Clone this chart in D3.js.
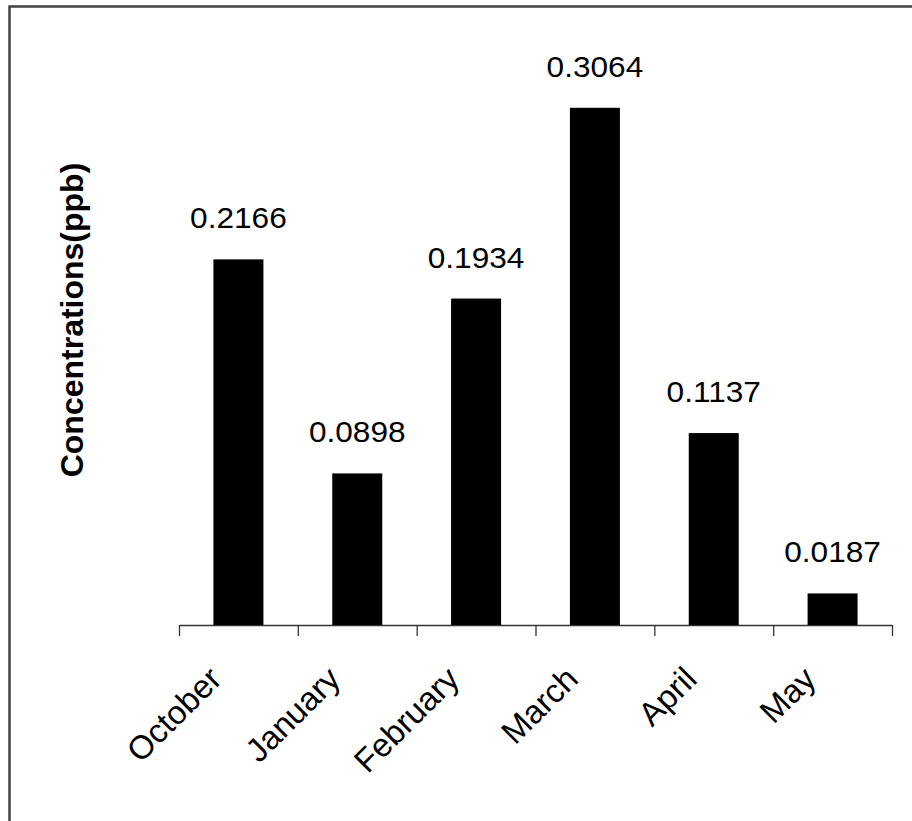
<!DOCTYPE html>
<html>
<head>
<meta charset="utf-8">
<script src="https://cdn.jsdelivr.net/npm/d3@7"></script>
<style>
  html, body { margin: 0; padding: 0; background: #fff; }
  svg { display: block; }
  text { font-family: "Liberation Sans", Arial, sans-serif; fill: #000; }
</style>
</head>
<body>
<script>
// Monthly concentrations (ppb)
const months = ["October", "January", "February", "March", "April", "May"];
const concentrations = [0.2166, 0.0898, 0.1934, 0.3064, 0.1137, 0.0187];
const yDomain = [0, 0.35];
const axisTitle = "Concentrations(ppb)";

const W = 912, H = 821;

const svg = d3.select("body").append("svg")
  .attr("width", W).attr("height", H);

// frame
svg.append("rect")
  .attr("x", 9.5).attr("y", 6.5)
  .attr("width", 1000).attr("height", 1000)
  .attr("fill", "none").attr("stroke", "#444").attr("stroke-width", 2.5);

const x0 = 179, x1 = 892;
const baseY = 625;

const x = d3.scaleBand().domain(months).range([x0, x1]).padding(0);
const y = d3.scaleLinear().domain(yDomain).range([baseY, baseY - 0.35 * 1688]);
const barW = 50;
const cx = m => x(m) + x.bandwidth() / 2;

// category axis with ticks on band boundaries
const edge = d3.scaleLinear().domain([0, months.length]).range([x0, x1]);
const axis = svg.append("g")
  .attr("transform", `translate(0,${baseY})`)
  .call(d3.axisBottom(edge)
    .tickValues(d3.range(months.length + 1))
    .tickFormat("")
    .tickSizeInner(11)
    .tickSizeOuter(0));
axis.select(".domain").attr("stroke", "#333").attr("stroke-width", 1.3);
axis.selectAll(".tick line").attr("stroke", "#333").attr("stroke-width", 1.3);

const rows = months.map((m, i) => ({ m, v: concentrations[i] }));

// bars
svg.selectAll("rect.bar")
  .data(rows)
  .join("rect")
  .attr("class", "bar")
  .attr("x", d => cx(d.m) - barW / 2)
  .attr("width", barW)
  .attr("y", d => y(d.v))
  .attr("height", d => y(0) - y(d.v))
  .attr("fill", "#000");

// value labels above the bars
const fmt = d3.format(".4f");
svg.selectAll("text.val")
  .data(rows)
  .join("text")
  .attr("class", "val")
  .attr("transform", d => `translate(${cx(d.m)},${y(d.v) - 31}) scale(1.09,1)`)
  .attr("text-anchor", "middle")
  .style("font-size", "29px")
  .text(d => fmt(d.v));

// month labels, slanted
svg.selectAll("text.month")
  .data(months)
  .join("text")
  .attr("class", "month")
  .attr("text-anchor", "end")
  .attr("transform", d => `translate(${cx(d) - 15},681) rotate(-45)`)
  .style("font-size", "33px")
  .text(d => d);

// axis title
svg.append("text")
  .attr("transform", `translate(83,320) rotate(-90)`)
  .attr("text-anchor", "middle")
  .style("font-size", "32px")
  .style("font-weight", "bold")
  .text(axisTitle);
</script>
</body>
</html>
